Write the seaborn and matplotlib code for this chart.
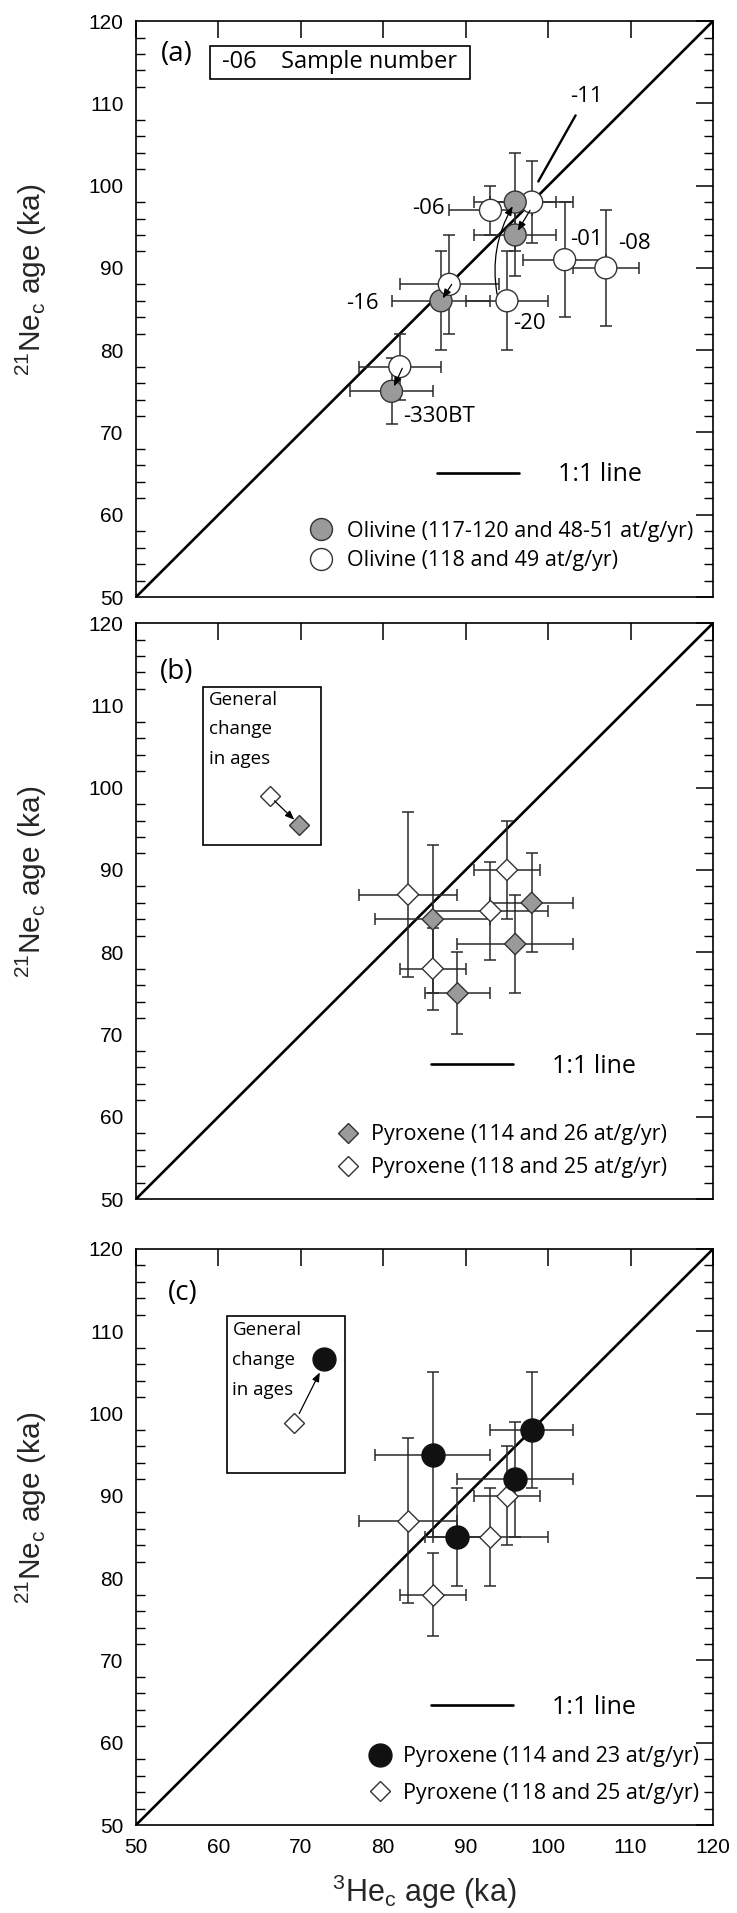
import numpy as np
import pandas as pd
import matplotlib
matplotlib.use("Agg")
import matplotlib.pyplot as plt
import seaborn as sns
from matplotlib.lines import Line2D
from matplotlib.patches import Rectangle
from matplotlib.ticker import MultipleLocator

# ---------------- data ----------------
# Panel (a) olivine, open = 118 and 49 at/g/yr, grey = 117-120 and 48-51 at/g/yr
a_open_x = [93, 98, 102, 107, 95, 88, 82]
a_open_y = [97, 98, 91, 90, 86, 88, 78]
a_open_xerr = [5, 5, 5, 4, 5, 6, 5]
a_open_yerr = [3, 5, 7, 7, 6, 6, 4]
a_grey_x = [96, 96, 87, 81]
a_grey_y = [98, 94, 86, 75]
a_grey_xerr = [5, 5, 6, 5]
a_grey_yerr = [6, 5, 6, 4]

# Panel (b) pyroxene
b_grey_x = [86, 98, 96, 89]
b_grey_y = [84, 86, 81, 75]
b_grey_xerr = [7, 5, 7, 4]
b_grey_yerr = [9, 6, 6, 5]
pyx_open_x = [83, 86, 93, 95]
pyx_open_y = [87, 78, 85, 90]
pyx_open_xerr = [6, 4, 7, 4]
pyx_open_yerr = [10, 5, 6, 6]

# Panel (c) pyroxene
c_black_x = [86, 98, 96, 89]
c_black_y = [95, 98, 92, 85]
c_black_xerr = [7, 5, 7, 4]
c_black_yerr = [10, 7, 7, 6]

axis_ticks = [50, 60, 70, 80, 90, 100, 110, 120]

leg_a = ["Olivine (117-120 and 48-51 at/g/yr)", "Olivine (118 and 49 at/g/yr)"]
leg_b = ["Pyroxene (114 and 26 at/g/yr)", "Pyroxene (118 and 25 at/g/yr)"]
leg_c = ["Pyroxene (114 and 23 at/g/yr)", "Pyroxene (118 and 25 at/g/yr)"]

# ---------------- style ----------------
sns.set_theme(style="white")
plt.rcParams["font.family"] = ["Liberation Sans", "DejaVu Sans"]
plt.rcParams["mathtext.fontset"] = "custom"
plt.rcParams["mathtext.rm"] = "Liberation Sans"
plt.rcParams["mathtext.default"] = "regular"
plt.rcParams["axes.edgecolor"] = "black"
plt.rcParams["text.color"] = "black"
plt.rcParams["xtick.color"] = "black"
plt.rcParams["ytick.color"] = "black"

ANN = ["Open Sans", "DejaVu Sans"]
GREY = "#9a9a9a"
EDGE = "#333333"
ERR = "#2a2a2a"
CIRC_S = 250
DIAM_S = 118
YLAB = r"$^{21}$Ne$_{c}$ age (ka)"

fig = plt.figure(figsize=(7.37, 19.13), dpi=100)
L, W, H = 0.1845, 0.783, 0.3011
bottoms = [0.6879, 0.3732, 0.0460]
axs = [fig.add_axes([L, b, W, H]) for b in bottoms]


def style_axis(ax, show_x):
    ax.set_xlim(50, 120)
    ax.set_ylim(50, 120)
    ax.set_xticks(axis_ticks)
    ax.set_yticks(axis_ticks)
    ax.yaxis.set_minor_locator(MultipleLocator(2))
    ax.tick_params(which="major", direction="in", top=True, right=True,
                   length=12, width=1.1, labelsize=15, pad=9)
    ax.tick_params(axis="y", which="minor", direction="in", left=True,
                   right=True, length=6.5, width=1.0)
    ax.tick_params(axis="x", which="minor", bottom=False, top=False)
    ax.tick_params(axis="x", labelbottom=show_x)
    for sp in ax.spines.values():
        sp.set_linewidth(1.2)
        sp.set_color("black")
    ax.plot([50, 120], [50, 120], color="black", lw=1.9, zorder=1,
            solid_capstyle="butt")


def errbars(ax, x, y, xe, ye):
    ax.errorbar(x, y, xerr=xe, yerr=ye, fmt="none", ecolor=ERR,
                elinewidth=1.1, capsize=4.2, capthick=1.1, zorder=2)


def one_to_one(ax, anchor):
    h = [Line2D([], [], color="black", lw=1.9)]
    lg = ax.legend(h, ["1:1 line"], loc="center left", bbox_to_anchor=anchor,
                   frameon=False, handlelength=3.3, handletextpad=1.55,
                   borderpad=0, borderaxespad=0,
                   prop={"family": ANN, "size": 18})
    ax.add_artist(lg)


arrow_kw = dict(arrowstyle="-|>,head_length=0.45,head_width=0.18",
                color="black", lw=0.9, shrinkA=0, shrinkB=0)
inset_kw = dict(ha="left", va="top", family=ANN, fontsize=13.5,
                linespacing=1.84, zorder=5)

# ---------------- panel (a) ----------------
ax = axs[0]
style_axis(ax, False)
errbars(ax, a_open_x, a_open_y, a_open_xerr, a_open_yerr)
errbars(ax, a_grey_x, a_grey_y, a_grey_xerr, a_grey_yerr)
open_a = pd.DataFrame({"he": a_open_x, "ne": a_open_y, "grp": "open"})
grey_a = pd.DataFrame({"he": a_grey_x, "ne": a_grey_y, "grp": "grey"})
df_a = pd.concat([open_a.iloc[:5], grey_a, open_a.iloc[5:]], ignore_index=True)
sns.scatterplot(data=df_a, x="he", y="ne", hue="grp",
                palette={"open": "white", "grey": GREY}, marker="o",
                s=CIRC_S, edgecolor=EDGE, linewidth=1.0, legend=False,
                ax=ax, zorder=3)

ax.annotate("", xy=(81.3, 75.6), xytext=(82.3, 77.8), arrowprops=arrow_kw, zorder=4)
ax.annotate("", xy=(87.2, 86.3), xytext=(88.3, 88.0), arrowprops=arrow_kw, zorder=4)
ax.annotate("", xy=(96.3, 94.5), xytext=(97.8, 97.0), arrowprops=arrow_kw, zorder=4)
ax.annotate("", xy=(95.7, 97.5), xytext=(93.8, 86.8),
            arrowprops=dict(arrow_kw, connectionstyle="arc3,rad=-0.18"), zorder=4)

lab_kw = dict(family=ANN, fontsize=16)
ax.text(87.4, 97.2, "-06", ha="right", va="center", **lab_kw)
ax.text(79.5, 85.7, "-16", ha="right", va="center", **lab_kw)
ax.text(95.8, 83.3, "-20", ha="left", va="center", **lab_kw)
ax.text(82.4, 72.0, "-330BT", ha="left", va="center", **lab_kw)
ax.text(102.7, 93.4, "-01", ha="left", va="center", **lab_kw)
ax.text(108.5, 93.0, "-08", ha="left", va="center", **lab_kw)
ax.annotate("-11", xy=(98.8, 100.5), xytext=(104.6, 110.8), ha="center",
            va="center", family=ANN, fontsize=16,
            arrowprops=dict(arrowstyle="-", color="black", lw=1.7,
                            shrinkA=4, shrinkB=0))

ax.text(54.9, 116.0, "(a)", ha="center", va="center", family=ANN, fontsize=20)
ax.add_patch(Rectangle((59.0, 113.0), 31.5, 4.0, fc="white", ec="black",
                       lw=1.2, zorder=4))
ax.text(60.4, 115.0, "-06    Sample number", ha="left", va="center",
        family=ANN, fontsize=17, zorder=5)

one_to_one(ax, (0.521, 0.212))
ha_ = [Line2D([], [], ls="none", marker="o", ms=15.8, mfc=GREY, mec=EDGE, mew=1.0),
       Line2D([], [], ls="none", marker="o", ms=15.8, mfc="white", mec=EDGE, mew=1.0)]
ax.legend(ha_, leg_a, loc="center left", bbox_to_anchor=(0.302, 0.0886),
          frameon=False, handlelength=1.0, handletextpad=0.7, labelspacing=0.38,
          borderpad=0, borderaxespad=0, prop={"family": ANN, "size": 15.5})

# ---------------- panel (b) ----------------
ax = axs[1]
style_axis(ax, False)
errbars(ax, b_grey_x, b_grey_y, b_grey_xerr, b_grey_yerr)
errbars(ax, pyx_open_x, pyx_open_y, pyx_open_xerr, pyx_open_yerr)
df_b = pd.concat([pd.DataFrame({"he": b_grey_x, "ne": b_grey_y, "grp": "grey"}),
                  pd.DataFrame({"he": pyx_open_x, "ne": pyx_open_y, "grp": "open"})],
                 ignore_index=True)
sns.scatterplot(data=df_b, x="he", y="ne", hue="grp",
                palette={"open": "white", "grey": GREY}, marker="D",
                s=DIAM_S, edgecolor=EDGE, linewidth=1.0, legend=False,
                ax=ax, zorder=3)
ax.text(54.9, 114.0, "(b)", ha="center", va="center", family=ANN, fontsize=20)

ax.add_patch(Rectangle((58.1, 93.0), 14.4, 19.2, fc="white", ec="black", lw=1.2, zorder=4))
ax.text(58.8, 111.8, "General\nchange\nin ages", **inset_kw)
ax.plot([66.2], [99.0], ls="none", marker="D", ms=10.6, mfc="white", mec=EDGE, mew=1.0, zorder=5)
ax.plot([69.8], [95.4], ls="none", marker="D", ms=10.6, mfc=GREY, mec=EDGE, mew=1.0, zorder=5)
ax.annotate("", xy=(69.2, 96.1), xytext=(66.8, 98.4), arrowprops=arrow_kw, zorder=6)

one_to_one(ax, (0.511, 0.231))
hb = [Line2D([], [], ls="none", marker="D", ms=10.6, mfc=GREY, mec=EDGE, mew=1.0),
      Line2D([], [], ls="none", marker="D", ms=10.6, mfc="white", mec=EDGE, mew=1.0)]
ax.legend(hb, leg_b, loc="center left", bbox_to_anchor=(0.349, 0.0829),
          frameon=False, handlelength=1.0, handletextpad=0.55, labelspacing=0.56,
          borderpad=0, borderaxespad=0, prop={"family": ANN, "size": 15.5})

# ---------------- panel (c) ----------------
ax = axs[2]
style_axis(ax, True)
errbars(ax, c_black_x, c_black_y, c_black_xerr, c_black_yerr)
errbars(ax, pyx_open_x, pyx_open_y, pyx_open_xerr, pyx_open_yerr)
sns.scatterplot(x=pyx_open_x, y=pyx_open_y, marker="D", s=DIAM_S, color="white",
                edgecolor=EDGE, linewidth=1.0, legend=False, ax=ax, zorder=3)
sns.scatterplot(x=c_black_x, y=c_black_y, marker="o", s=CIRC_S * 1.1, color="#111111",
                edgecolor="#111111", linewidth=1.0, legend=False, ax=ax, zorder=3)
ax.set_xlabel(r"$^{3}$He$_{c}$ age (ka)", fontsize=22, labelpad=12)
ax.text(55.7, 114.6, "(c)", ha="center", va="center", family=ANN, fontsize=20)

ax.add_patch(Rectangle((61.0, 92.8), 14.3, 19.1, fc="white", ec="black", lw=1.2, zorder=4))
ax.text(61.7, 111.2, "General\nchange\nin ages", **inset_kw)
ax.plot([72.8], [106.6], ls="none", marker="o", ms=16.5, mfc="#111111", mec="#111111", zorder=5)
ax.plot([69.2], [98.8], ls="none", marker="D", ms=10.6, mfc="white", mec=EDGE, mew=1.0, zorder=5)
ax.annotate("", xy=(72.3, 105.0), xytext=(69.8, 100.0), arrowprops=arrow_kw, zorder=6)

one_to_one(ax, (0.511, 0.204))
hc = [Line2D([], [], ls="none", marker="o", ms=16.5, mfc="#111111", mec="#111111"),
      Line2D([], [], ls="none", marker="D", ms=10.6, mfc="white", mec=EDGE, mew=1.0)]
ax.legend(hc, leg_c, loc="center left", bbox_to_anchor=(0.405, 0.0864),
          frameon=False, handlelength=1.0, handletextpad=0.55, labelspacing=0.72,
          borderpad=0, borderaxespad=0, prop={"family": ANN, "size": 15.5})

for ax in axs:
    ax.set_ylabel(YLAB, fontsize=21.5)
    ax.yaxis.set_label_coords(-0.15, 0.55)
axs[0].set_xlabel("")
axs[1].set_xlabel("")

fig.savefig("out.png", dpi=100)
